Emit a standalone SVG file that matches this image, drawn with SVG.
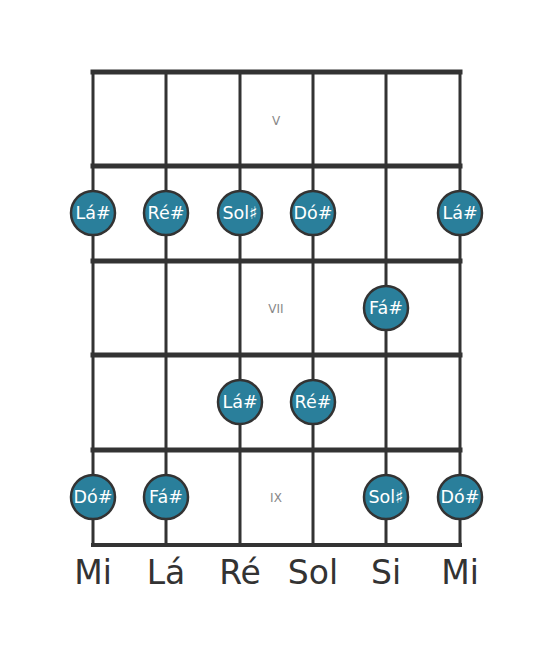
<svg xmlns="http://www.w3.org/2000/svg" width="553" height="656" viewBox="0 0 553 656">
<style>
.fret{stroke:#333;stroke-width:5;stroke-linecap:square}
.str{stroke:#333;stroke-width:3}
.dot circle{fill:#2a7f9b;stroke:#333;stroke-width:2.5}
.dot text{fill:#fff;font-family:"DejaVu Sans",sans-serif;font-size:17.5px;text-anchor:middle}
.fl{fill:#888;font-family:"DejaVu Sans",sans-serif;font-size:12px;text-anchor:middle}
.sl{fill:#333;font-family:"DejaVu Sans",sans-serif;font-size:33px;text-anchor:middle}
</style>
<rect width="553" height="656" fill="#fff"/>
<g id="connectors">
<line class="str" x1="93" y1="72" x2="93" y2="545"/>
<line class="str" x1="166" y1="72" x2="166" y2="545"/>
<line class="str" x1="240" y1="72" x2="240" y2="545"/>
<line class="str" x1="313" y1="72" x2="313" y2="545"/>
<line class="str" x1="386" y1="72" x2="386" y2="545"/>
<line class="str" x1="460" y1="72" x2="460" y2="545"/>
<line class="fret" x1="93" y1="72" x2="460" y2="72"/>
<line class="fret" x1="93" y1="166" x2="460" y2="166"/>
<line class="fret" x1="93" y1="261" x2="460" y2="261"/>
<line class="fret" x1="93" y1="355" x2="460" y2="355"/>
<line class="fret" x1="93" y1="450" x2="460" y2="450"/>
<line class="fret" x1="93" y1="545" x2="460" y2="545" style="stroke-width:4"/>
</g>
<g id="fret-labels">
<text class="fl" x="276" y="125">V</text>
<text class="fl" x="276" y="313">VII</text>
<text class="fl" x="276" y="502">IX</text>
</g>
<g id="n1" class="dot"><circle cx="93" cy="213" r="22"/><text x="93" y="219">Lá#</text></g>
<g id="n2" class="dot"><circle cx="166" cy="213" r="22"/><text x="166" y="219">Ré#</text></g>
<g id="n3" class="dot"><circle cx="240" cy="213" r="22"/><text x="240" y="219">Sol♯</text></g>
<g id="n4" class="dot"><circle cx="313" cy="213" r="22"/><text x="313" y="219">Dó#</text></g>
<g id="n5" class="dot"><circle cx="460" cy="213" r="22"/><text x="460" y="219">Lá#</text></g>
<g id="n6" class="dot"><circle cx="386" cy="308" r="22"/><text x="386" y="314">Fá#</text></g>
<g id="n7" class="dot"><circle cx="240" cy="402" r="22"/><text x="240" y="408">Lá#</text></g>
<g id="n8" class="dot"><circle cx="313" cy="402" r="22"/><text x="313" y="408">Ré#</text></g>
<g id="n9" class="dot"><circle cx="93" cy="497" r="22"/><text x="93" y="503">Dó#</text></g>
<g id="n10" class="dot"><circle cx="166" cy="497" r="22"/><text x="166" y="503">Fá#</text></g>
<g id="n11" class="dot"><circle cx="386" cy="497" r="22"/><text x="386" y="503">Sol♯</text></g>
<g id="n12" class="dot"><circle cx="460" cy="497" r="22"/><text x="460" y="503">Dó#</text></g>
<g id="string-labels">
<text class="sl" x="93" y="584">Mi</text>
<text class="sl" x="166" y="584">Lá</text>
<text class="sl" x="240" y="584">Ré</text>
<text class="sl" x="313" y="584">Sol</text>
<text class="sl" x="386" y="584">Si</text>
<text class="sl" x="460" y="584">Mi</text>
</g>
</svg>
